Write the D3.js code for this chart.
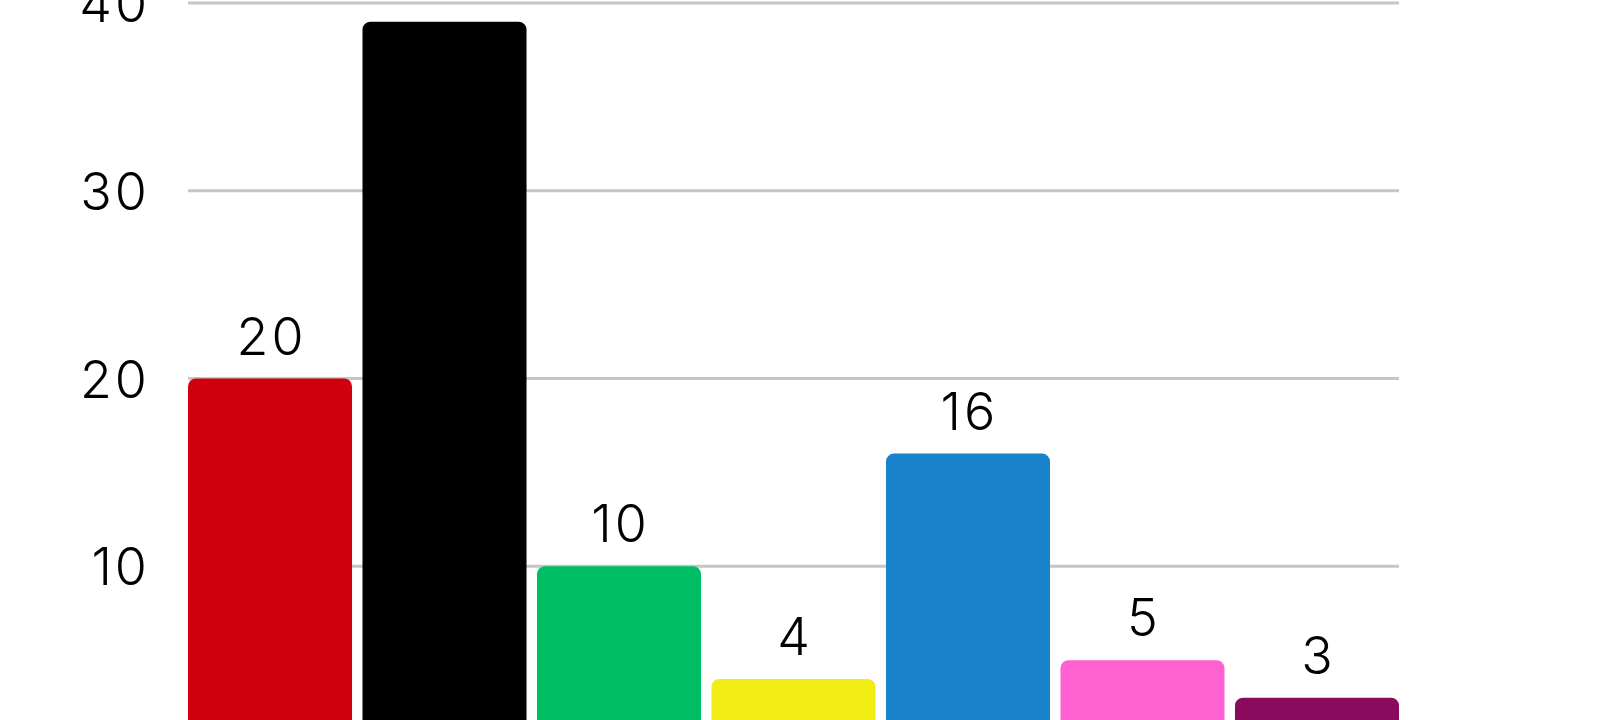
<!DOCTYPE html>
<html>
<head>
<meta charset="utf-8">
<script src="https://cdn.jsdelivr.net/npm/d3@7"></script>
<style>
  html, body { margin: 0; padding: 0; background: #fff; }
  svg { display: block; }
  text { font-family: Inter, "Open Sans", sans-serif; font-weight: 300; fill: #000; }
</style>
</head>
<body>
<svg id="chart" width="1600" height="720"></svg>
<script>
const categories = ["A", "B", "C", "D", "E", "F", "G"];
const values = [20, 39, 10, 4, 16, 5, 3];
const colors = ["#D0000F", "#000000", "#00BE64", "#F0EC14", "#1882CC", "#FF62D0", "#8A0A5E"];
const yTicks = [10, 20, 30, 40];

const svg = d3.select("#chart");
const x = d3.scaleBand().domain(categories).range([188, 1399]).paddingInner(0.06).paddingOuter(0);
const y = d3.scaleLinear().domain([0, 40]).range([754, 3]);

// gridlines
svg.append("g").selectAll("line").data(yTicks).join("line")
  .attr("x1", 188).attr("x2", 1399)
  .attr("y1", d => y(d)).attr("y2", d => y(d))
  .attr("stroke", "#c6c6c6").attr("stroke-width", 3);

// y axis labels
const yAxis = d3.axisLeft(y).tickValues(yTicks).tickSize(0).tickPadding(0);
const ga = svg.append("g").attr("transform", "translate(150,0)").call(yAxis);
ga.select(".domain").remove();
ga.selectAll("text").attr("font-size", 52).attr("font-family", "Inter, sans-serif")
  .attr("font-weight", 300).attr("fill", "#000").attr("dy", "0.36em")
  .attr("letter-spacing", 3);

// bars
svg.append("g").selectAll("rect").data(values).join("rect")
  .attr("x", (d, i) => x(categories[i]))
  .attr("width", x.bandwidth())
  .attr("y", d => y(d))
  .attr("height", d => y(0) - y(d) + 20)
  .attr("rx", 8).attr("ry", 8)
  .attr("fill", (d, i) => colors[i]);

// value labels
svg.append("g").selectAll("text").data(values).join("text")
  .attr("x", (d, i) => x(categories[i]) + x.bandwidth() / 2 + 1.5)
  .attr("y", d => y(d) - 24)
  .attr("text-anchor", "middle")
  .attr("font-size", 52)
  .attr("letter-spacing", 3)
  .text(d => d);
</script>
</body>
</html>
